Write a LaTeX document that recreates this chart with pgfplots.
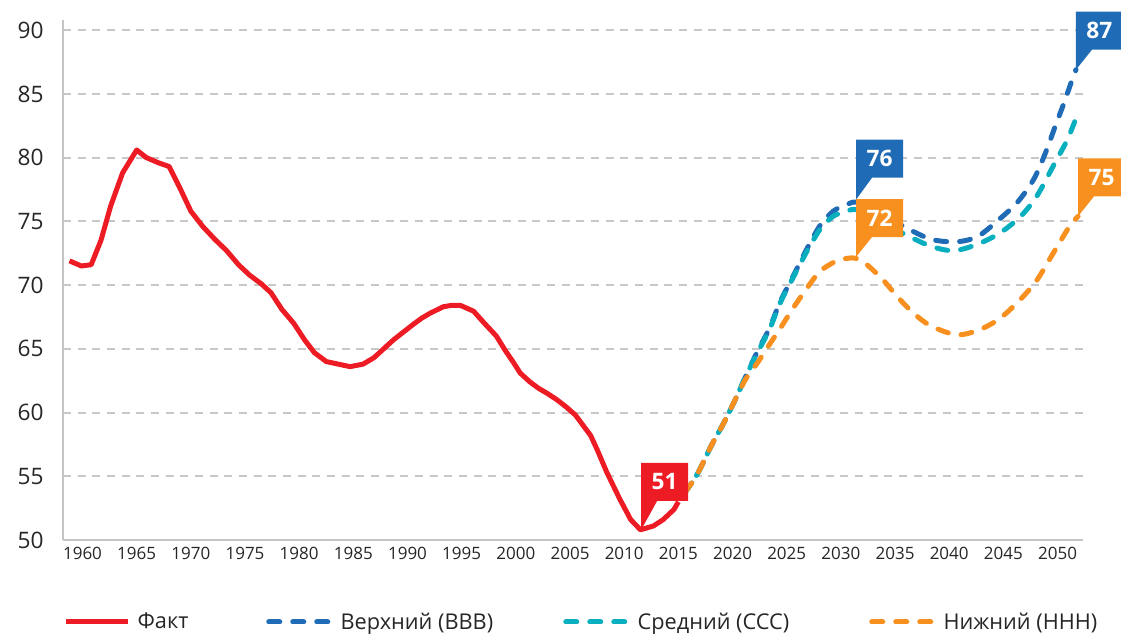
\documentclass[border=0pt]{standalone}
\usepackage{fontspec}
\setmainfont{Open Sans}
\usepackage{pgfplots}
\pgfplotsset{compat=1.18}
\definecolor{fact}{HTML}{ED1C24}
\definecolor{upper}{HTML}{1F6BB5}
\definecolor{mid}{HTML}{0AAFBF}
\definecolor{low}{HTML}{F7901E}
\definecolor{gridc}{HTML}{C8C8C8}
\definecolor{axisc}{HTML}{C4C4C4}

% callout: colour, x, y, drop, text
\newcommand{\callout}[5]{%
  \fill[#1] (axis cs:#2,#3) -- ++(0pt,#4) -- ++(0pt,28.5pt) -- ++(35.25pt,0pt)
    -- ++(0pt,-28.5pt) -- ++(-23.25pt,0pt) -- cycle;
  \node[text=white, font=\fontsize{17}{17}\selectfont\bfseries, inner sep=0pt,
    xshift=17.6pt, yshift=#4+14.25pt] at (axis cs:#2,#3) {#5};
}

\begin{document}
\begin{tikzpicture}
\begin{axis}[
    width=765pt, height=390pt, scale only axis,
    xmin=1958.2, xmax=2052.35, ymin=50, ymax=90.8,
    axis x line*=bottom, axis y line*=left,
    axis line style={axisc, line width=1.5pt},
    xtick={1960,1965,...,2050}, ytick={50,55,...,90},
    major tick length=0pt,
    ymajorgrids, grid style={gridc, line width=1.5pt, dash pattern=on 6pt off 5pt},
    /pgf/number format/assume math mode=true,
    /pgf/number format/1000 sep={},
    x tick label style={font=\fontsize{12.75}{14}\selectfont, text=black!85, yshift=-2pt},
    y tick label style={font=\fontsize{17}{19}\selectfont, text=black!85, xshift=-11pt},
    clip=false,
    legend columns=4,
    legend style={at={(rel axis cs:0,0)}, anchor=west, xshift=0pt, yshift=-61.5pt,
        draw=none, fill=none, inner sep=0pt, column sep=0pt,
        /tikz/every even column/.style={column sep=0pt},
        /tikz/every odd column/.style={column sep=0pt},
        nodes={inner sep=0pt, text=black!85},
        font=\fontsize{16.3}{18}\selectfont},
    legend image code/.code={\draw[#1, dash phase=0pt] (0pt,0pt) -- (47pt,0pt); \path (52pt,0pt);},
    every axis plot/.append style={line width=3.75pt},
]
\addplot[fact, line join=round] coordinates {
 (1958.8,71.9)(1959.9,71.5)(1960.8,71.6)(1961.7,73.5)(1962.6,76.2)(1963.7,78.8)
 (1965.0,80.6)(1965.9,80.0)(1967.0,79.6)(1968.0,79.3)(1969.0,77.6)(1970.0,75.8)
 (1971.1,74.6)(1972.2,73.6)(1973.3,72.7)(1974.4,71.6)(1975.4,70.8)(1976.5,70.1)
 (1977.4,69.4)(1978.4,68.1)(1979.5,67.0)(1980.5,65.7)(1981.4,64.7)(1982.5,64.0)
 (1983.6,63.8)(1984.7,63.6)(1985.9,63.8)(1986.9,64.3)(1987.8,65.0)(1988.7,65.7)
 (1989.6,66.3)(1990.5,66.9)(1991.3,67.4)(1992.1,67.8)(1993.3,68.3)(1994.0,68.4)
 (1994.9,68.4)(1996.1,67.95)(1997.1,67.0)(1998.2,66.0)(1999.0,64.9)(1999.8,63.9)
 (2000.4,63.1)(2001.3,62.4)(2002.1,61.9)(2002.9,61.5)(2003.8,61.0)(2004.7,60.4)
 (2005.5,59.8)(2006.2,59.0)(2006.9,58.2)(2007.5,57.1)(2008.4,55.3)(2009.6,53.2)
 (2010.6,51.6)(2011.5,50.8)(2012.7,51.1)(2013.6,51.6)(2014.6,52.4)(2015.0,53.0)
};
\addlegendentry{\makebox[96.5pt][l]{Факт}}

\addplot[upper, smooth, line cap=round, dash pattern=on 8.25pt off 9.75pt, dash phase=9pt] coordinates {
 (2015.0,53.0)(2016.7,55.1)(2018.1,57.5)(2019.2,59.2)(2020.3,61.1)(2021.2,62.8)
 (2022.3,64.8)(2023.4,66.6)(2024.4,68.7)(2025.6,70.7)(2026.9,72.9)(2028.1,74.7)
 (2029.3,75.8)(2030.5,76.3)(2031.5,76.5)(2033.5,75.7)(2035.8,74.6)(2038.3,73.6)
 (2040.7,73.4)(2042.6,73.8)(2044.4,75.0)(2046.3,76.5)(2047.8,78.3)(2048.9,80.4)
 (2049.8,82.5)(2050.6,84.3)(2051.3,86.0)(2051.7,86.9)
};
\addlegendentry{\makebox[167pt][l]{Верхний (ВВВ)}}

\addplot[mid, smooth, line cap=round, dash pattern=on 8.25pt off 9.75pt, dash phase=12pt] coordinates {
 (2015.0,53.0)(2016.7,55.1)(2018.1,57.5)(2019.2,59.2)(2020.3,61.1)(2021.2,62.8)
 (2022.3,64.7)(2023.4,66.5)(2024.4,68.6)(2025.6,70.6)(2026.9,72.7)(2028.1,74.4)
 (2029.3,75.4)(2030.5,75.8)(2031.5,75.9)(2033.5,75.0)(2036.1,73.9)(2038.3,73.05)
 (2040.4,72.7)(2042.6,73.2)(2044.7,74.1)(2046.6,75.4)(2048.1,77.0)(2049.7,79.5)
 (2050.9,81.4)(2051.8,83.3)
};
\addlegendentry{\makebox[173.75pt][l]{Средний (ССС)}}

\addplot[low, smooth, line cap=round, dash pattern=on 8.25pt off 9.75pt, dash phase=9pt] coordinates {
 (2015.0,53.0)(2016.7,55.1)(2018.1,57.5)(2019.2,59.2)(2020.3,61.1)(2021.2,62.6)
 (2022.3,63.9)(2023.3,65.2)(2024.4,66.6)(2025.6,68.2)(2026.9,69.8)(2028.1,71.1)
 (2029.6,71.9)(2030.6,72.1)(2031.4,72.1)(2032.4,71.6)(2033.9,70.4)(2035.2,69.1)
 (2036.7,67.8)(2038.3,66.8)(2040.7,66.1)(2042.8,66.5)(2044.7,67.4)(2046.6,68.9)
 (2048.1,70.4)(2049.6,72.5)(2051.1,74.6)(2051.9,75.4)
};
\addlegendentry{Нижний (ННН)}

\callout{fact}{2011.57}{50.8}{21.75pt}{51}
\callout{upper}{2031.4}{76.7}{16.5pt}{76}
\callout{low}{2031.4}{72.2}{15pt}{72}
\callout{upper}{2051.7}{86.9}{15pt}{87}
\callout{low}{2051.9}{75.4}{15pt}{75}
\end{axis}
\pgfresetboundingbox
\path[use as bounding box] (-47.25pt,-70.5pt) rectangle (793.5pt,405pt);
\end{tikzpicture}
\end{document}
